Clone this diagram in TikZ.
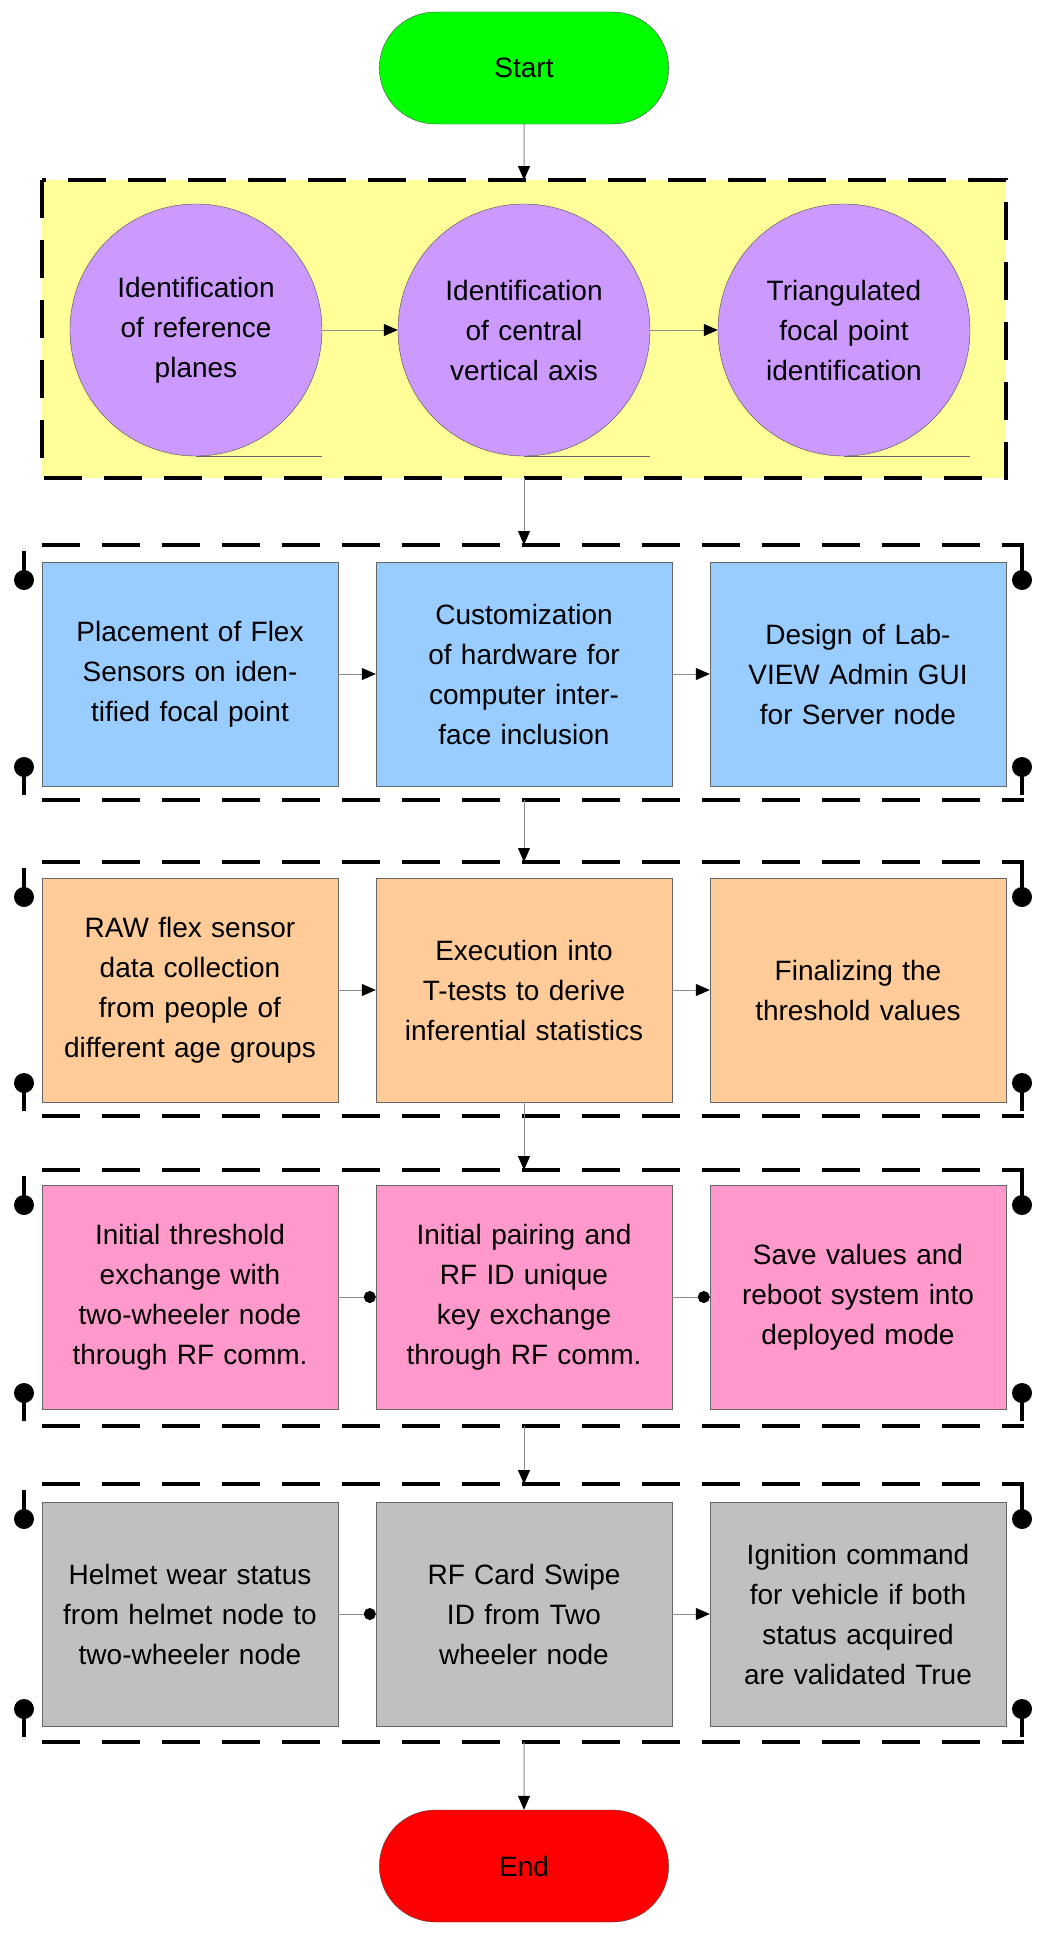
\documentclass[tikz,border=0pt]{standalone}
\usepackage{fontspec}
\setmainfont{Liberation Sans}
\usetikzlibrary{arrows.meta,shapes.misc}
\definecolor{cgreen}{HTML}{00FF00}
\definecolor{cyellow}{HTML}{FFFF99}
\definecolor{cpurple}{HTML}{CC99FF}
\definecolor{cblue}{HTML}{99CCFF}
\definecolor{corange}{HTML}{FFCC99}
\definecolor{cpink}{HTML}{FF99CC}
\definecolor{cgray}{HTML}{C0C0C0}
\definecolor{cred}{HTML}{FF0000}
\begin{document}
\begin{tikzpicture}[x=1pt,y=-1pt,
  txt/.style={font=\fontsize{28}{40}\selectfont,align=center,text=black},
  term/.style={txt,rounded rectangle,draw=black!70,minimum width=296pt,minimum height=112pt},
  circ/.style={txt,circle,draw=black!70,fill=cpurple,minimum size=252pt,inner sep=0pt,text width=180pt},
  box/.style={txt,rectangle,draw=black!60,minimum width=296pt,minimum height=224pt,text width=280pt,inner sep=0pt},
  conn/.style={draw=black!45,line width=1pt},
  arr/.style={conn,-{Triangle[black,length=14pt,width=12pt]}},
  dot/.style={conn,-{Circle[black,length=12pt]}},
  dashline/.style={line width=4pt,dash pattern=on 38pt off 22pt},
  stem/.style={line width=4pt}]
\useasboundingbox (0,0) rectangle (1051,1935);
\node[term,fill=cgreen] (start) at (524,68) {Start};
\draw[dashline,fill=cyellow] (42,180) rectangle (1006,478);
\coordinate (ytop) at (524,180); \coordinate (ybot) at (524,478);
\node[circ] (c1) at (196,330) {Identification of reference planes};
\node[circ] (c2) at (524,330) {Identification of central vertical axis};
\node[circ] (c3) at (844,330) {Triangulated focal point identification};
\foreach \c in {c1,c2,c3}{\draw[black!60] (\c.south) -- ++(126,0);}
\draw[arr] (c1) -- (c2); \draw[arr] (c2) -- (c3);
\draw[arr] (start) -- (ytop);
\foreach \t/\b in {545/800,862/1116,1170/1426,1484/1742}{
  \draw[dashline] (42,\t) -- (1024,\t); \draw[dashline] (42,\b) -- (1024,\b);
  \draw[stem] (24,\t+6) -- (24,\t+33); \fill (24,\t+35) circle (10pt);
  \draw[stem] (24,\b-5) -- (24,\b-30); \fill (24,\b-33) circle (10pt);
  \draw[stem] (1022,\t+2) -- (1022,\t+28); \fill (1022,\t+35) circle (10pt);
  \draw[stem] (1022,\b-5) -- (1022,\b-25); \fill (1022,\b-33) circle (10pt);
}
\node[box,fill=cblue] (a1) at (190,674) {Placement of Flex Sensors on identified focal point};
\node[box,fill=cblue] (a2) at (524,674) {Customization of hardware for computer interface inclusion};
\node[box,fill=cblue] (a3) at (858,674) {Design of LabVIEW Admin GUI for Server node};
\node[box,fill=corange] (b1) at (190,990) {RAW flex sensor data collection from people of different age groups};
\node[box,fill=corange] (b2) at (524,990) {Execution into T-tests to derive inferential statistics};
\node[box,fill=corange] (b3) at (858,990) {Finalizing the threshold values};
\node[box,fill=cpink] (p1) at (190,1297) {Initial threshold exchange with two-wheeler node through RF comm.};
\node[box,fill=cpink] (p2) at (524,1297) {Initial pairing and RF ID unique key exchange through RF comm.};
\node[box,fill=cpink] (p3) at (858,1297) {Save values and reboot system into deployed mode};
\node[box,fill=cgray] (g1) at (190,1614) {Helmet wear status from helmet node to two-wheeler node};
\node[box,fill=cgray] (g2) at (524,1614) {RF Card Swipe ID from Two wheeler node};
\node[box,fill=cgray] (g3) at (858,1614) {Ignition command for vehicle if both status acquired are validated True};
\node[term,fill=cred] (end) at (524,1866) {End};
\draw[arr] (a1) -- (a2); \draw[arr] (a2) -- (a3);
\draw[arr] (b1) -- (b2); \draw[arr] (b2) -- (b3);
\draw[dot] (p1) -- (p2); \draw[dot] (p2) -- (p3);
\draw[dot] (g1) -- (g2); \draw[arr] (g2) -- (g3);
\coordinate (r1t) at (524,545); \coordinate (r1b) at (524,800);
\coordinate (r2t) at (524,862); \coordinate (r3t) at (524,1170);
\coordinate (r3b) at (524,1426); \coordinate (r4t) at (524,1484);
\coordinate (r4b) at (524,1742);
\draw[arr] (ybot) -- (r1t);
\draw[arr] (r1b) -- (r2t);
\draw[arr] (b2.south) -- (r3t);
\draw[arr] (r3b) -- (r4t);
\draw[arr] (r4b) -- (end);
\end{tikzpicture}
\end{document}
